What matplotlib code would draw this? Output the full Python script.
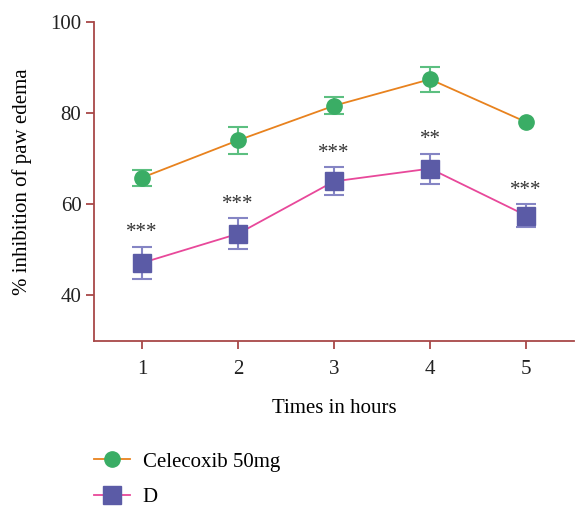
import matplotlib
matplotlib.use('Agg')
import matplotlib.pyplot as plt
from matplotlib.lines import Line2D
import numpy as np

# ── Data ──────────────────────────────────────────────────────────────────────
hours = [1, 2, 3, 4, 5]
celecoxib = [65.8, 74.0, 81.6, 87.4, 78.0]
celecoxib_err = [1.8, 3.0, 1.8, 2.8, np.nan]
drug_d = [47.1, 53.5, 65.0, 67.8, 57.5]
drug_d_err = [3.6, 3.4, 3.1, 3.3, 2.5]
stars = ['***', '***', '***', '**', '***']

plt.rcParams['font.family'] = ['Liberation Serif', 'DejaVu Serif']
spine_col = '#a84848'
orange, green = '#e8821e', '#3aad65'
pink, purple = '#e8489a', '#5b5ba6'

fig = plt.figure(figsize=(5.76, 5.08), dpi=100)
ax = fig.add_axes([0.163, 0.329, 0.834, 0.628])

ax.errorbar(hours, celecoxib, yerr=celecoxib_err, color=orange, lw=1.3,
            marker='o', ms=11, mfc=green, mec=green,
            ecolor='#5cbf80', elinewidth=1.5, capsize=7, capthick=1.5, zorder=3)
ax.errorbar(hours, drug_d, yerr=drug_d_err, color=pink, lw=1.3,
            marker='s', ms=12.5, mfc=purple, mec=purple,
            ecolor='#8585c4', elinewidth=1.5, capsize=7, capthick=1.5, zorder=3)

for x, y, e, s in zip(hours, drug_d, drug_d_err, stars):
    ax.annotate(s, (x, y + e), xytext=(0, 3), textcoords='offset points',
                ha='center', va='bottom', fontsize=15, color='#333333')

ax.set_xlim(0.5, 5.5)
ax.set_ylim(30, 100)
ax.set_xticks(hours)
ax.set_yticks([40, 60, 80, 100])
ax.set_xlabel('Times in hours', fontsize=15, labelpad=14)
ax.set_ylabel('% inhibition of paw edema', fontsize=15, labelpad=13)

for side in ['top', 'right']:
    ax.spines[side].set_visible(False)
for side in ['left', 'bottom']:
    ax.spines[side].set_color(spine_col)
    ax.spines[side].set_linewidth(1.3)
ax.tick_params(direction='out', length=6, width=1.3, color=spine_col,
               labelsize=15, labelcolor='#222222')
ax.tick_params(axis='y', pad=3)
ax.tick_params(axis='x', pad=8)

handles = [Line2D([], [], color=orange, lw=1.3, marker='o', ms=11, mfc=green, mec=green),
           Line2D([], [], color=pink, lw=1.3, marker='s', ms=12.5, mfc=purple, mec=purple)]
fig.legend(handles, ['Celecoxib 50mg', 'D'], loc='center left',
           bbox_to_anchor=(0.148, 0.056), frameon=False,
           fontsize=15, labelspacing=0.75, handlelength=1.75, handletextpad=0.6,
           borderaxespad=0)

fig.savefig('out.png', dpi=100)
